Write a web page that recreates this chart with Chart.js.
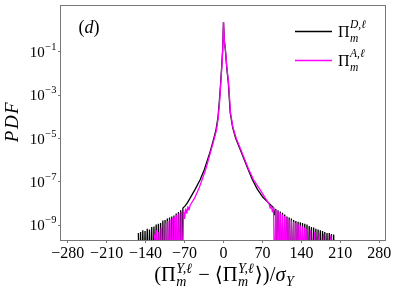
<!DOCTYPE html>
<html>
<head>
<meta charset="utf-8">
<script src="https://cdn.jsdelivr.net/npm/chart.js@4.4.0/dist/chart.umd.min.js"></script>
<style>
  body { margin: 0; background: #fff; }
  #wrap { width: 399px; height: 290px; }
</style>
</head>
<body>
<div id="wrap"><canvas id="pdfChart"></canvas></div>
<script>
const xTicks = [-280, -210, -140, -70, 0, 70, 140, 210, 280];
const yTicks = [1e-9, 1e-7, 1e-5, 1e-3, 1e-1];

// Pi_m^{D,l}  (black)
const xD = [-153, -151, -149, -147, -145, -143, -141, -139, -137, -135, -133, -131, -129, -127, -125, -123,
  -121, -119, -117, -115, -113, -111, -109, -107, -105, -103, -101, -99, -97, -95, -93, -91, -89, -87, -85,
  -83, -81, -79, -77, -75, -73, -69, -65, -60, -51, -42, -34.5, -24, -18, -13.5, -10, -7.5, -5, -3,
  -1.5, 0, 1.5, 3.2, 6, 8.6, 12, 16.5, 22, 30, 44.5, 52, 61, 70, 80, 90, 92, 94, 96, 98, 100, 102, 104, 106,
  108, 110, 112, 114, 116, 118, 120, 122, 124, 126, 128, 130, 132, 134, 136, 138, 140, 142, 144, 146, 148,
  150, 152, 154, 156, 158, 160, 162, 164, 166, 168, 170, 172, 174, 176, 178, 180, 182, 184, 186, 188, 190,
  192, 194, 196, 198, 200];
const pdfD = [4.5e-10, 1e-12, 5e-10, 1e-12, 6e-10, 1e-12, 5.5e-10, 1e-12, 7e-10, 1e-12, 6.5e-10, 1e-12,
  8.5e-10, 1e-12, 9e-10, 1e-12, 1.1e-9, 1e-12, 1.2e-9, 1e-12, 1.3e-9, 1e-12, 1.7e-9, 1e-12, 1.8e-9, 1e-12,
  2.1e-9, 1e-12, 2.3e-9, 1e-12, 2.6e-9, 1e-12, 2.9e-9, 1e-12, 3.6e-9, 1e-12, 4.2e-9, 1e-12, 5e-9, 1e-12,
  6.3e-9, 8e-9, 1.1e-8, 1.8e-8, 4.6e-8, 1.26e-7, 3.7e-7, 2.5e-6, 8.9e-6, 2.5e-5, 9e-5, 5e-4,
  4e-3, 2.5e-2, 0.126, 2.3, 0.3, 0.13, 1.6e-2, 3.9e-3, 1.6e-4, 3.2e-5, 1e-5, 3.1e-6, 3.7e-7, 1.26e-7, 4.6e-8,
  2.1e-8, 1.15e-8, 6.5e-9, 3e-9, 5.8e-9, 1e-12, 5e-9, 1e-12, 4.4e-9, 1e-12, 3.8e-9, 1e-12, 3.2e-9, 1e-12,
  2.6e-9, 1e-12, 2.3e-9, 1e-12, 2.1e-9, 1e-12, 1.8e-9, 1e-12, 1.6e-9, 1e-12, 1.5e-9, 1e-12, 1.4e-9, 1e-12,
  1.3e-9, 1e-12, 1.2e-9, 1e-12, 1.1e-9, 1e-12, 9.5e-10, 1e-12, 8.5e-10, 1e-12, 8e-10, 1e-12, 7e-10, 1e-12,
  6.5e-10, 1e-12, 6e-10, 1e-12, 5.5e-10, 1e-12, 5e-10, 1e-12, 4.5e-10, 1e-12, 4.5e-10, 1e-12, 4e-10, 1e-12,
  3.8e-10, 1e-12];

// Pi_m^{A,l}  (magenta)
const xA = [-124, -122, -120, -118, -116, -114, -112, -110, -108, -106, -104, -102, -100, -98, -96, -94, -92,
  -90, -88, -86, -84, -82, -80, -78, -76, -74, -72, -70, -68, -66, -64, -62, -60, -52, -43.5, -38.5, -32,
  -22.5, -17, -12.5, -9.5, -7, -4.7, -2.8, -1.3, 0, 1.6, 3.4, 6.3, 9, 12.5, 17, 23, 31, 45.5, 54, 65.5, 75, 82,
  84, 86, 88, 90, 92, 94, 96, 98, 100, 102, 104, 106, 108, 110, 112, 114, 116, 118, 120, 122, 124, 126, 128,
  130, 132, 134, 136, 138, 140, 142, 144, 146, 148, 150, 152, 156, 158, 164, 166, 172, 174, 180, 182, 193, 195];
const pdfA = [4e-10, 1e-12, 6e-10, 1e-12, 5e-10, 1e-12, 8e-10, 1e-12, 1.1e-9, 1e-12, 1.3e-9, 1e-12, 1.6e-9,
  1e-12, 1.9e-9, 1e-12, 2.2e-9, 1e-12, 2.5e-9, 1e-12, 3e-9, 1e-12, 3.6e-9, 1e-12, 4.3e-9, 1e-12, 5e-9, 2e-9,
  6e-9, 3.5e-9, 7.5e-9, 5e-9, 8.5e-9, 1.8e-8, 5.6e-8, 1.26e-7, 3.7e-7, 2.8e-6, 8.9e-6, 2.5e-5, 9e-5,
  5e-4, 4e-3, 2.5e-2, 0.126, 2.3, 0.3, 0.13, 1.6e-2, 3.9e-3, 1.6e-4, 3.2e-5, 1e-5, 3.1e-6, 3.7e-7, 1.26e-7,
  4.6e-8, 1.8e-8, 1e-8, 6e-9, 8e-9, 4e-9, 7e-9, 1e-12, 5.5e-9, 1e-12, 4.5e-9, 1e-12, 3.8e-9, 1e-12, 3.2e-9,
  1e-12, 2.7e-9, 1e-12, 2.3e-9, 1e-12, 1.9e-9, 1e-12, 1.7e-9, 1e-12, 1.5e-9, 1e-12, 1.3e-9, 1e-12, 1.15e-9,
  1e-12, 1e-9, 1e-12, 9e-10, 1e-12, 8e-10, 1e-12, 7e-10, 1e-12, 6e-10, 1e-12, 5e-10, 1e-12, 4.5e-10, 1e-12,
  4e-10, 1e-12, 3.5e-10, 1e-12];

const SERIF = '"Liberation Serif", "DejaVu Serif", serif';

function font(size, italic) {
  return (italic ? 'italic ' : '') + size + 'px ' + SERIF;
}

// runs: {t, size, it, dy} or {sup, sub, size, up, down}
function runWidth(ctx, r) {
  if (r.t !== undefined) { ctx.font = font(r.size, r.it); return ctx.measureText(r.t).width + (r.pad || 0); }
  ctx.font = font(r.size, true);
  return Math.max(ctx.measureText(r.sup || '').width, ctx.measureText(r.sub || '').width) + 1.5;
}

function drawRuns(ctx, runs, x, y, align) {
  let total = 0;
  runs.forEach(r => total += runWidth(ctx, r));
  let cx = align === 'center' ? x - total / 2 : align === 'right' ? x - total : x;
  ctx.textAlign = 'left';
  ctx.textBaseline = 'alphabetic';
  runs.forEach(r => {
    const w = runWidth(ctx, r);
    if (r.t !== undefined) {
      ctx.font = font(r.size, r.it);
      ctx.fillText(r.t, cx + (r.pad || 0) / 2, y + (r.dy || 0));
    } else {
      ctx.font = font(r.size, true);
      if (r.sup) ctx.fillText(r.sup, cx + 0.5, y - r.up);
      if (r.sub) ctx.fillText(r.sub, cx + 0.5, y + r.down);
    }
    cx += w;
  });
}

const annotate = {
  id: 'annotate',
  afterDraw(chart) {
    const ctx = chart.ctx, a = chart.chartArea;
    ctx.save();
    ctx.strokeStyle = '#777';
    ctx.lineWidth = 1;
    ctx.strokeRect(a.left - 0.5, a.top + 0.5, a.right - a.left, a.bottom - a.top);
    ctx.fillStyle = '#000';

    // y tick labels 10^n
    const ys = chart.scales.y;
    yTicks.forEach(v => {
      const py = ys.getPixelForValue(v);
      const e = Math.round(Math.log10(v));
      drawRuns(ctx, [
        { t: '10', size: 15 },
        { t: (e < 0 ? '\u2212' : '') + Math.abs(e), size: 10.5, dy: -7, pad: 1 }
      ], a.left - 4, py + 5, 'right');
    });

    // y title
    ctx.save();
    ctx.translate(13, (a.top + a.bottom) / 2);
    ctx.rotate(-Math.PI / 2);
    ctx.font = font(19, true);
    ctx.letterSpacing = '1.5px';
    ctx.textAlign = 'center';
    ctx.textBaseline = 'middle';
    ctx.fillText('PDF', 1, 0);
    ctx.restore();

    // x title
    const pi = { t: '\u03A0', size: 20.5 };
    const yl = { sup: 'Y,\u2113', sub: 'm', size: 14, up: 8.5, down: 5 };
    drawRuns(ctx, [
      { t: '(', size: 20.5 }, pi, yl, { t: '\u2212', size: 20.5, pad: 10 }, { t: '\u27E8', size: 20.5 }, pi, yl,
      { t: '\u27E9', size: 20.5 }, { t: ')/', size: 20.5 }, { t: '\u03C3', size: 20.5, it: true },
      { sup: '', sub: 'Y', size: 14, up: 0, down: 4.5 }
    ], (a.left + a.right) / 2 + 1, 281, 'center');

    // panel label
    drawRuns(ctx, [{ t: '(', size: 18 }, { t: 'd', size: 18, it: true }, { t: ')', size: 18 }], 89, 33, 'center');

    // legend
    chart.data.datasets.forEach((ds, i) => {
      const ly = 31.5 + i * 29;
      ctx.strokeStyle = ds.borderColor;
      ctx.lineWidth = 1.4;
      ctx.beginPath();
      ctx.moveTo(295, ly);
      ctx.lineTo(332, ly);
      ctx.stroke();
      drawRuns(ctx, [
        { t: '\u03A0', size: 16 },
        { sup: ds.tag + ',\u2113', sub: 'm', size: 11.5, up: 9, down: 4.5 }
      ], 338, ly + 5.5, 'left');
    });
    ctx.restore();
  }
};

new Chart(document.getElementById('pdfChart'), {
  type: 'line',
  data: {
    datasets: [
      {
        label: 'D',
        tag: 'D',
        data: xD.map((x, i) => ({ x: x, y: pdfD[i] })),
        borderColor: '#000000',
        borderWidth: 1.3,
        pointRadius: 0,
        borderJoinStyle: 'bevel',
        clip: 0,
        order: 1
      },
      {
        label: 'A',
        tag: 'A',
        data: xA.map((x, i) => ({ x: x, y: pdfA[i] })),
        borderColor: '#ff00ff',
        borderWidth: 1.3,
        pointRadius: 0,
        borderJoinStyle: 'bevel',
        clip: 0,
        order: 0
      }
    ]
  },
  options: {
    responsive: true,
    maintainAspectRatio: false,
    animation: false,
    layout: { padding: { top: 5, right: 13, left: 0, bottom: 0 } },
    plugins: { legend: { display: false }, tooltip: { enabled: false } },
    scales: {
      x: {
        type: 'linear',
        min: -292,
        max: 292,
        afterBuildTicks: (s) => { s.ticks = xTicks.map(v => ({ value: v })); },
        afterFit: (s) => { s.height = 50; },
        grid: { drawOnChartArea: false, color: '#777', tickLength: 3 },
        border: { display: false },
        ticks: {
          color: '#000',
          padding: 1,
          maxRotation: 0,
          autoSkip: false,
          font: { family: SERIF, size: 16 },
          callback: (v) => (v < 0 ? '\u2212' + Math.abs(v) : '' + v)
        }
      },
      y: {
        type: 'logarithmic',
        min: 2.15e-10,
        max: 13.8,
        afterBuildTicks: (s) => { s.ticks = yTicks.map(v => ({ value: v })); },
        afterFit: (s) => { s.width = 61; },
        grid: { drawOnChartArea: false, color: '#777', tickLength: 3 },
        border: { display: false },
        ticks: { display: false }
      }
    }
  },
  plugins: [annotate]
});
</script>
</body>
</html>
